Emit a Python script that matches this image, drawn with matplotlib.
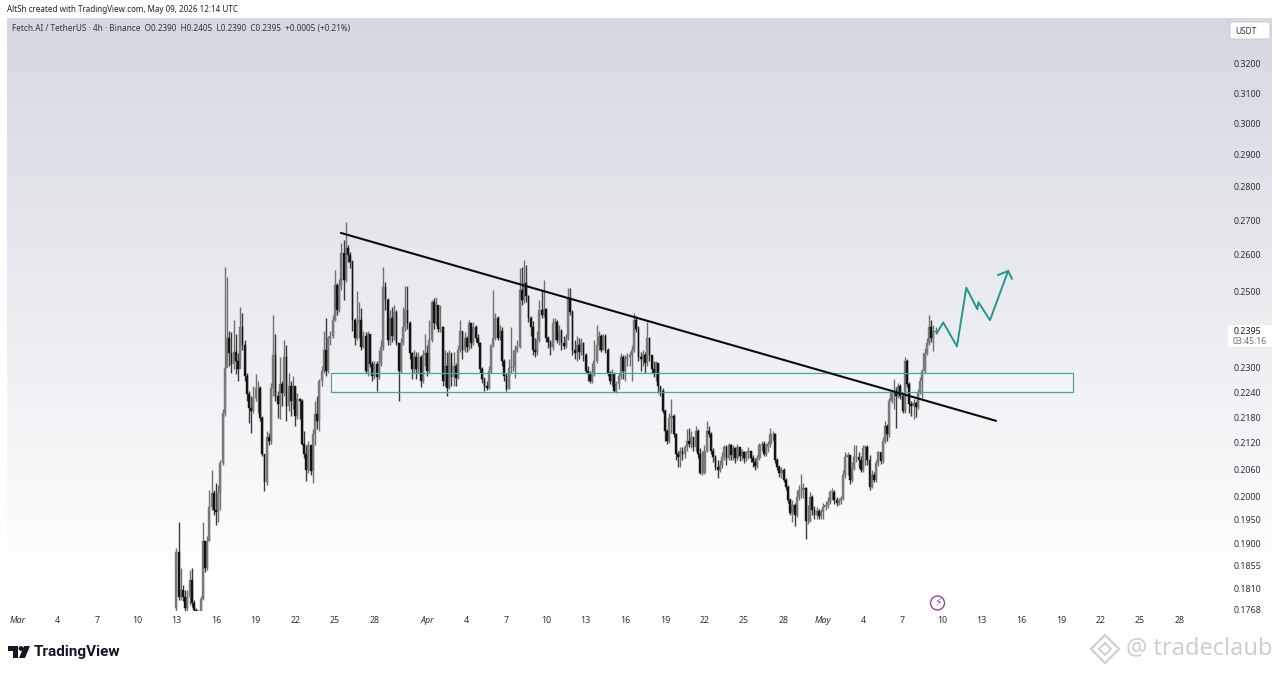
import numpy as np
import pandas as pd
import matplotlib
matplotlib.use("Agg")
import matplotlib.pyplot as plt
import matplotlib.dates as mdates
from matplotlib.patches import Rectangle, Circle, Polygon, FancyBboxPatch
from matplotlib.transforms import IdentityTransform

plt.rcParams['font.family'] = ['Noto Sans', 'DejaVu Sans']

W, H = 1280, 673

# 4h candles from Mar 13 2026, one row = one day
closes = [
    .1882, .1793, .1806, .1793, .1771, .1793,
    .1826, .1781, .1767, .1765, .1763, .1789,
    .1906, .1851, .1906, .1976, .2007, .1970,
    .1966, .2007, .2073, .2189, .2300, .2376,
    .2336, .2310, .2339, .2318, .2298, .2403,
    .2357, .2280, .2235, .2201, .2194, .2225,
    .2250, .2250, .2178, .2095, .2032, .2132,
    .2125, .2250, .2331, .2230, .2211, .2260,
    .2238, .2326, .2206, .2255, .2218, .2255,
    .2182, .2223, .2218, .2118, .2095, .2058,
    .2114, .2056, .2141, .2187, .2171, .2268,
    .2293, .2344, .2293, .2376, .2382, .2422,
    .2517, .2449, .2517, .2605, .2531, .2620,
    .2600, .2580, .2422, .2376, .2414, .2422,
    .2352, .2382, .2293, .2387, .2310, .2280,
    .2310, .2278, .2313, .2352, .2511, .2476,
    .2370, .2427, .2382, .2443, .2362, .2293,
    .2362, .2403, .2449, .2414, .2336, .2298,
    .2326, .2298, .2326, .2268, .2331, .2336,
    .2293, .2370, .2470, .2414, .2462, .2400,
    .2403, .2268, .2305, .2250, .2336, .2278,
    .2305, .2275, .2344, .2395, .2344, .2375,
    .2352, .2414, .2362, .2403, .2375, .2362,
    .2298, .2273, .2255, .2250, .2293, .2357,
    .2376, .2427, .2375, .2395, .2318, .2280,
    .2248, .2300, .2303, .2303, .2344, .2352,
    .2503, .2476, .2523, .2487, .2427, .2403,
    .2344, .2339, .2370, .2449, .2435, .2451,
    .2376, .2365, .2352, .2414, .2416, .2370,
    .2395, .2362, .2354, .2376, .2481, .2443,
    .2344, .2336, .2357, .2339, .2362, .2331,
    .2293, .2288, .2268, .2288, .2318, .2357,
    .2382, .2344, .2382, .2344, .2288, .2268,
    .2288, .2243, .2260, .2280, .2326, .2293,
    .2323, .2326, .2331, .2344, .2422, .2400,
    .2326, .2323, .2331, .2313, .2375, .2331,
    .2298, .2285, .2313, .2255, .2243, .2194,
    .2148, .2125, .2178, .2182, .2141, .2095,
    .2087, .2102, .2095, .2109, .2125, .2118,
    .2132, .2109, .2148, .2095, .2051, .2051,
    .2102, .2148, .2141, .2102, .2087, .2065,
    .2058, .2069, .2087, .2109, .2085, .2114,
    .2091, .2107, .2085, .2109, .2089, .2098,
    .2085, .2098, .2100, .2085, .2076, .2067,
    .2085, .2114, .2118, .2095, .2111, .2118,
    .2141, .2141, .2080, .2065, .2051, .2058,
    .2036, .2021, .1992, .1963, .1981, .1959,
    .1999, .2014, .2014, .2018, .1948, .1948,
    .1999, .1970, .1959, .1968, .1957, .1966,
    .1977, .1981, .1988, .2009, .2009, .1992,
    .1985, .1992, .1996, .2047, .2087, .2091,
    .2036, .2062, .2087, .2087, .2080, .2058,
    .2107, .2109, .2080, .2021, .2047, .2036,
    .2073, .2098, .2078, .2125, .2159, .2141,
    .2218, .2238, .2243, .2230, .2255, .2230,
    .2194, .2318, .2260, .2211, .2206, .2213,
    .2204, .2238, .2268, .2293, .2336, .2362,
    .2403, .2375, .2390, .2395,
]
highs = [
    .1890, .1944, .1849, .1816, .1806, .1806,
    .1846, .1849, .1787, .1771, .1767, .1795,
    .1944, .1906, .1916, .2014, .2058, .2014,
    .2029, .2025, .2080, .2199, .2567, .2539,
    .2395, .2390, .2422, .2387, .2336, .2457,
    .2441, .2370, .2288, .2243, .2230, .2255,
    .2285, .2268, .2255, .2182, .2095, .2148,
    .2143, .2263, .2435, .2387, .2243, .2326,
    .2268, .2370, .2357, .2288, .2268, .2280,
    .2255, .2238, .2225, .2223, .2148, .2114,
    .2125, .2114, .2152, .2218, .2230, .2273,
    .2305, .2395, .2427, .2382, .2395, .2435,
    .2558, .2523, .2534, .2634, .2643, .2694,
    .2628, .2608, .2586, .2427, .2500, .2470,
    .2454, .2395, .2390, .2395, .2387, .2318,
    .2318, .2318, .2344, .2370, .2567, .2525,
    .2481, .2449, .2457, .2462, .2449, .2362,
    .2375, .2457, .2514, .2514, .2419, .2339,
    .2344, .2339, .2339, .2331, .2344, .2387,
    .2357, .2422, .2476, .2481, .2484, .2462,
    .2462, .2406, .2344, .2339, .2344, .2310,
    .2339, .2313, .2357, .2422, .2395, .2390,
    .2382, .2422, .2400, .2416, .2409, .2387,
    .2365, .2303, .2278, .2268, .2305, .2357,
    .2503, .2441, .2432, .2409, .2403, .2323,
    .2288, .2323, .2403, .2344, .2357, .2370,
    .2564, .2567, .2586, .2572, .2489, .2432,
    .2419, .2375, .2395, .2476, .2503, .2531,
    .2454, .2382, .2370, .2427, .2427, .2422,
    .2409, .2400, .2382, .2387, .2509, .2509,
    .2449, .2370, .2382, .2375, .2375, .2365,
    .2336, .2305, .2293, .2313, .2370, .2409,
    .2395, .2387, .2387, .2387, .2349, .2293,
    .2298, .2288, .2268, .2288, .2336, .2331,
    .2331, .2336, .2339, .2357, .2441, .2432,
    .2406, .2339, .2344, .2339, .2416, .2379,
    .2331, .2318, .2318, .2313, .2255, .2250,
    .2199, .2152, .2189, .2223, .2187, .2143,
    .2102, .2109, .2109, .2114, .2152, .2154,
    .2148, .2134, .2159, .2152, .2107, .2102,
    .2114, .2171, .2159, .2145, .2107, .2091,
    .2080, .2080, .2098, .2114, .2114, .2120,
    .2118, .2114, .2111, .2116, .2107, .2105,
    .2102, .2102, .2109, .2102, .2091, .2085,
    .2091, .2120, .2125, .2125, .2120, .2125,
    .2154, .2148, .2143, .2085, .2069, .2065,
    .2062, .2040, .2025, .1996, .1992, .1985,
    .2014, .2025, .2049, .2029, .2021, .1981,
    .2009, .2003, .1979, .1977, .1972, .1972,
    .1985, .1990, .1999, .2014, .2018, .2014,
    .1999, .1996, .2001, .2058, .2098, .2098,
    .2091, .2076, .2114, .2114, .2098, .2089,
    .2114, .2114, .2114, .2091, .2058, .2054,
    .2080, .2102, .2098, .2132, .2171, .2164,
    .2225, .2243, .2273, .2253, .2263, .2260,
    .2235, .2326, .2323, .2265, .2218, .2223,
    .2218, .2248, .2278, .2298, .2349, .2376,
    .2435, .2422, .2409, .2405,
]
lows = [
    .1765, .1787, .1787, .1785, .1765, .1765,
    .1777, .1773, .1765, .1765, .1759, .1763,
    .1787, .1842, .1846, .1906, .1970, .1959,
    .1939, .1944, .1970, .2069, .2182, .2331,
    .2305, .2288, .2298, .2285, .2268, .2318,
    .2344, .2268, .2218, .2166, .2143, .2189,
    .2218, .2189, .2171, .2089, .2012, .2025,
    .2114, .2118, .2230, .2218, .2178, .2176,
    .2206, .2230, .2171, .2194, .2182, .2199,
    .2159, .2176, .2176, .2114, .2085, .2034,
    .2051, .2047, .2029, .2114, .2152, .2148,
    .2255, .2288, .2280, .2288, .2357, .2375,
    .2419, .2435, .2443, .2503, .2476, .2525,
    .2580, .2563, .2395, .2357, .2370, .2376,
    .2344, .2349, .2288, .2280, .2303, .2268,
    .2273, .2243, .2273, .2305, .2344, .2449,
    .2357, .2357, .2365, .2370, .2357, .2218,
    .2288, .2357, .2395, .2400, .2323, .2273,
    .2288, .2273, .2288, .2253, .2263, .2305,
    .2280, .2288, .2365, .2400, .2409, .2392,
    .2392, .2255, .2255, .2230, .2248, .2255,
    .2255, .2255, .2273, .2339, .2323, .2339,
    .2339, .2344, .2349, .2357, .2365, .2354,
    .2288, .2263, .2243, .2245, .2248, .2288,
    .2352, .2370, .2370, .2370, .2305, .2268,
    .2243, .2248, .2288, .2293, .2275, .2339,
    .2349, .2462, .2468, .2470, .2416, .2382,
    .2331, .2328, .2331, .2365, .2427, .2430,
    .2365, .2349, .2331, .2344, .2370, .2362,
    .2357, .2344, .2347, .2349, .2370, .2435,
    .2331, .2323, .2318, .2323, .2331, .2318,
    .2288, .2268, .2263, .2263, .2280, .2313,
    .2344, .2339, .2344, .2336, .2280, .2260,
    .2255, .2240, .2238, .2248, .2273, .2273,
    .2268, .2305, .2305, .2268, .2339, .2392,
    .2318, .2293, .2305, .2288, .2305, .2318,
    .2288, .2278, .2268, .2238, .2230, .2189,
    .2125, .2118, .2120, .2143, .2132, .2080,
    .2065, .2065, .2080, .2085, .2102, .2109,
    .2107, .2102, .2102, .2085, .2049, .2047,
    .2049, .2098, .2134, .2095, .2076, .2058,
    .2040, .2054, .2062, .2080, .2069, .2080,
    .2080, .2080, .2073, .2080, .2078, .2080,
    .2073, .2078, .2082, .2076, .2065, .2058,
    .2062, .2080, .2102, .2089, .2089, .2098,
    .2111, .2125, .2073, .2058, .2043, .2040,
    .2032, .2014, .1985, .1959, .1944, .1937,
    .1955, .1992, .1996, .1996, .1910, .1941,
    .1944, .1959, .1952, .1952, .1952, .1952,
    .1952, .1970, .1974, .1983, .1992, .1983,
    .1979, .1981, .1983, .1992, .2040, .2047,
    .2027, .2032, .2058, .2076, .2062, .2054,
    .2054, .2069, .2069, .2014, .2018, .2032,
    .2032, .2067, .2071, .2073, .2120, .2125,
    .2132, .2213, .2199, .2154, .2225, .2223,
    .2189, .2189, .2253, .2189, .2182, .2176,
    .2180, .2199, .2235, .2225, .2288, .2331,
    .2357, .2365, .2341, .2390,
]
first_open = .1771

price_ticks = [.3200, .3100, .3000, .2900, .2800, .2700, .2600, .2500, .2300, .2240,
               .2180, .2120, .2060, .2000, .1950, .1900, .1855, .1810, .1768]
time_ticks = ["2026-03-01", "2026-03-04", "2026-03-07", "2026-03-10", "2026-03-13", "2026-03-16",
              "2026-03-19", "2026-03-22", "2026-03-25", "2026-03-28", "2026-04-01", "2026-04-04",
              "2026-04-07", "2026-04-10", "2026-04-13", "2026-04-16", "2026-04-19", "2026-04-22",
              "2026-04-25", "2026-04-28", "2026-05-01", "2026-05-04", "2026-05-07", "2026-05-10",
              "2026-05-13", "2026-05-16", "2026-05-19", "2026-05-22", "2026-05-25", "2026-05-28"]
time_labels = ["Mar", "4", "7", "10", "13", "16", "19", "22", "25", "28", "Apr", "4", "7", "10",
               "13", "16", "19", "22", "25", "28", "May", "4", "7", "10", "13", "16", "19",
               "22", "25", "28"]

# drawings on the chart
trend_times = ["2026-03-25 11:00", "2026-05-14 02:00"]
trend_prices = [.2663, .2171]
zone_times = ["2026-03-24 17:00", "2026-05-19 22:00"]
zone_prices = [.2240, .2288]
path_times = ["2026-05-09 14:00", "2026-05-10 02:00", "2026-05-11 03:00", "2026-05-11 20:00",
              "2026-05-12 16:00", "2026-05-12 18:00", "2026-05-13 15:00", "2026-05-15 00:00"]
path_prices = [.2387, .2416, .2354, .2509, .2451, .2470, .2422, .2555]
head_times = ["2026-05-14 06:00", "2026-05-15 00:00", "2026-05-15 07:00"]
head_prices = [.2544, .2555, .2534]

TEAL = '#26968a'
TEXT = '#2f3136'


def fx(px):
    return px / W


def fy(px):
    return 1 - px / H


def dates(values):
    return mdates.date2num(pd.to_datetime(values))


fig = plt.figure(figsize=(W / 100, H / 100), dpi=100, facecolor='white')

# pane background, grey at the top fading to white
bg = fig.add_axes([fx(7), fy(630), fx(1272 - 7), fy(18) - fy(630)])
grad = np.linspace(0, 1, 256).reshape(-1, 1)
top = np.array([213, 216, 225]) / 255
colors = top + (1 - top) * np.clip(grad / 0.92, 0, 1)[..., None]
bg.imshow(colors, aspect='auto')
bg.axis('off')

ax = fig.add_axes([fx(7), fy(611), fx(1221 - 7), fy(18) - fy(611)])
ax.patch.set_alpha(0)
for s in ax.spines.values():
    s.set_visible(False)

closes = np.array(closes)
highs = np.array(highs)
lows = np.array(lows)
opens = np.r_[first_open, closes[:-1]]
t0 = mdates.date2num(pd.Timestamp("2026-03-13"))
t = t0 + np.arange(len(closes)) / 6

up = closes >= opens
UP_COL = '#7a7a7a'
DOWN_COL = '#141414'
ax.vlines(t[up], lows[up], highs[up], color='#707070', lw=1.0, zorder=2)
ax.vlines(t[~up], lows[~up], highs[~up], color='#3a3a3a', lw=1.0, zorder=2)
ax.bar(t[up], np.abs(closes - opens)[up], bottom=np.minimum(opens, closes)[up], width=0.155,
       color=UP_COL, edgecolor=UP_COL, lw=0.3, zorder=3)
ax.bar(t[~up], np.abs(closes - opens)[~up], bottom=np.minimum(opens, closes)[~up], width=0.14,
       color=DOWN_COL, edgecolor=DOWN_COL, lw=0.3, zorder=3)

# zone, trend line and projected path
zx = dates(zone_times)
ax.add_patch(Rectangle((zx[0], zone_prices[0]), zx[1] - zx[0], zone_prices[1] - zone_prices[0],
                       facecolor='white', alpha=0.3, edgecolor='none', zorder=1))
ax.add_patch(Rectangle((zx[0], zone_prices[0]), zx[1] - zx[0], zone_prices[1] - zone_prices[0],
                       facecolor='none', edgecolor='#4aa69b', lw=0.9, zorder=4))
ax.plot(dates(trend_times), trend_prices, color='#0c0c0c', lw=1.5, zorder=5, solid_capstyle='round')
ax.plot(dates(path_times), path_prices, color=TEAL, lw=1.4, zorder=5)
ax.plot(dates(head_times), head_prices, color=TEAL, lw=1.4, zorder=5)

ax.set_yscale('log')
ax.set_ylim(.17655, .3364)
ax.set_xlim(mdates.date2num(pd.Timestamp("2026-02-28 04:00")), mdates.date2num(pd.Timestamp("2026-05-31 03:00")))
ax.minorticks_off()
ax.yaxis.tick_right()
ax.set_yticks(price_ticks, labels=[f"{p:.4f}" for p in price_ticks])
ax.set_xticks(dates(time_ticks), labels=time_labels)
ax.tick_params(axis='y', length=0, pad=9.0, labelsize=6.4, labelcolor=TEXT)
ax.tick_params(axis='x', length=0, pad=3.5, labelsize=6.4, labelcolor=TEXT)
for lab in ax.get_xticklabels():
    if lab.get_text() in ("Mar", "Apr", "May"):
        lab.set_fontstyle('italic')
ax.minorticks_off()

# header texts
fig.text(fx(7), fy(10), "AltSh created with TradingView.com, May 09, 2026 12:14 UTC",
         fontsize=5.8, color='#222222', va='center')
fig.text(fx(12), fy(29), "Fetch.AI / TetherUS · 4h · Binance  O0.2390  H0.2405  L0.2390  C0.2395  +0.0005 (+0.21%)",
         fontsize=5.9, color='#33353a', va='center')

# price scale boxes
id_tr = IdentityTransform()
fig.add_artist(FancyBboxPatch((1230, H - 39), 40, 17, boxstyle="round,pad=0,rounding_size=2",
                              facecolor='white', edgecolor='#c8cad0', lw=0.7, transform=id_tr))
fig.text(fx(1246), fy(31), "USDT", fontsize=6.0, color=TEXT, ha='center', va='center')
fig.add_artist(Rectangle((1228, H - 347), 44, 22, facecolor='white', edgecolor='none', transform=id_tr))
fig.text(fx(1234), fy(331), "0.2395", fontsize=6.4, color='#1c1c1c', va='center')
fig.text(fx(1233), fy(341), "03:45:16", fontsize=6.2, color='#666a70', va='center')

# lightning badge
fig.add_artist(Circle((937.5, H - 603), 7, facecolor='none', edgecolor='#8a4f9e', lw=1.0, transform=id_tr))
fig.text(fx(937.5), fy(603), "\u26a1", fontsize=8, color='#8a4f9e', ha='center', va='center',
         family='DejaVu Sans')

# TradingView logo
logo_col = '#131722'
fig.add_artist(Polygon([(8, H - 646), (18, H - 646), (18, H - 658), (13, H - 658), (13, H - 651), (8, H - 651)],
                       closed=True, facecolor=logo_col, edgecolor='none', transform=id_tr))
fig.add_artist(Circle((21, H - 648.5), 2.4, facecolor=logo_col, edgecolor='none', transform=id_tr))
fig.add_artist(Polygon([(24, H - 646), (30, H - 646), (25, H - 658), (19, H - 658)],
                       closed=True, facecolor=logo_col, edgecolor='none', transform=id_tr))
fig.text(fx(34), fy(652), "TradingView", fontsize=11, fontweight='bold', family='Roboto', color=logo_col, va='center')

# watermark
wm = '#cfcfcf'
fig.add_artist(Polygon([(1091, H - 649), (1105, H - 635), (1119, H - 649), (1105, H - 663)],
                       closed=True, facecolor='none', edgecolor=wm, lw=1.6, transform=id_tr))
fig.add_artist(Polygon([(1099, H - 649), (1105, H - 643), (1111, H - 649), (1105, H - 655)],
                       closed=True, facecolor='none', edgecolor=wm, lw=1.4, transform=id_tr))
fig.text(fx(1272), fy(648), "@ tradeclaub", fontsize=17, color=wm, ha='right', va='center')

fig.savefig("out.png", dpi=100)
